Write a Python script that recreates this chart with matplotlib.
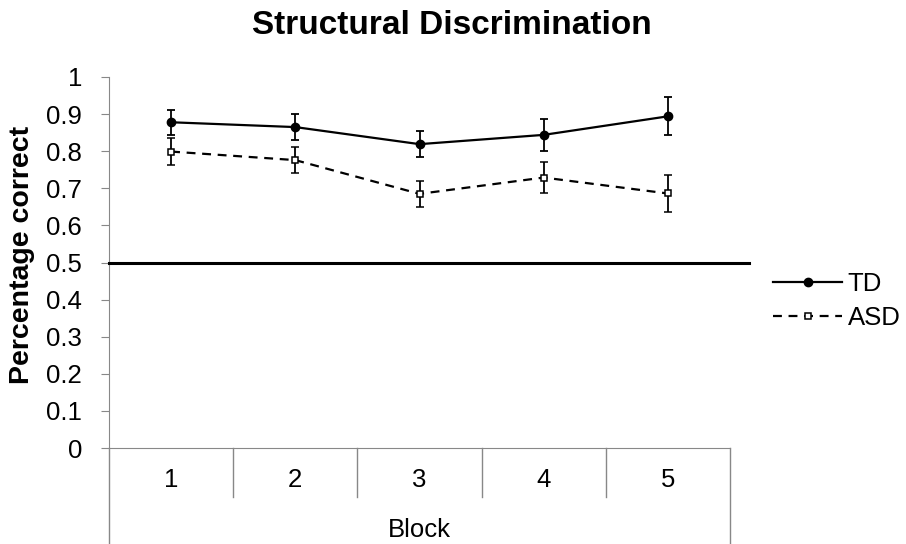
import matplotlib.pyplot as plt
from matplotlib.lines import Line2D
import matplotlib.transforms as mtransforms

blocks = ['1', '2', '3', '4', '5']
td = [0.878, 0.865, 0.819, 0.844, 0.894]
td_err = [0.034, 0.035, 0.035, 0.043, 0.051]
asd = [0.799, 0.776, 0.685, 0.729, 0.686]
asd_err = [0.036, 0.035, 0.035, 0.043, 0.051]
chance = 0.5

plt.rcParams['font.family'] = ['Liberation Sans', 'DejaVu Sans']

W, H = 906, 544
L, R, Y0, Y1 = 109, 730, 448, 77

fig = plt.figure(figsize=(9.06, 5.44), dpi=100)
ax = fig.add_axes([L/W, 1-Y0/H, (R-L)/W, (Y0-Y1)/H])

x = list(range(1, len(blocks)+1))
ax.errorbar(x, td, yerr=td_err, color='black', lw=1.6, marker='o', ms=6,
            capsize=3.2, elinewidth=1.3, capthick=1.3)
ax.errorbar(x, asd, yerr=asd_err, color='black', lw=1.6, ls='--', dashes=(4, 3),
            marker='s', ms=5, mfc='white', mew=1.1,
            capsize=3.2, elinewidth=1.3, capthick=1.3)

# chance line, runs a bit past the plot area like the original
trans = mtransforms.blended_transform_factory(fig.transFigure, ax.transData)
fig.add_artist(Line2D([L/W, 749/W], [chance, chance], transform=trans,
                      color='black', lw=2.2))

ax.set_xlim(0.5, len(blocks)+0.5)
ax.set_ylim(0, 1)
ax.set_yticks([i/10 for i in range(11)])
ax.set_yticklabels(['0'] + ['0.%d' % i for i in range(1, 10)] + ['1'], fontsize=18.5)
ax.tick_params(axis='y', direction='out', length=5.8, color='#888888', pad=13.5)
ax.set_xticks([])
for s in ['top', 'right']:
    ax.spines[s].set_visible(False)
ax.spines['left'].set_color('#888888')
ax.spines['bottom'].set_color('#888888')

# category axis with separators and the "Block" row
bt = mtransforms.blended_transform_factory(ax.transData, fig.transFigure)
row1 = 1 - 497/H
for i in range(len(blocks)+1):
    xb = 0.5 + i
    low = 0 if i in (0, len(blocks)) else row1
    fig.add_artist(Line2D([xb, xb], [1-Y0/H, low], transform=bt,
                          color='#888888', lw=1))
for xi, b in zip(x, blocks):
    fig.text(xi, 1-480/H, b, transform=bt, ha='center', va='center', fontsize=18.5)
fig.text((len(blocks)+1)/2, 1-530/H, 'Block', transform=bt, ha='center', va='center', fontsize=18.5)

fig.text(22/W, 1-255/H, 'Percentage correct', rotation=90, ha='center', va='center',
         fontsize=20.5, fontweight='bold')
fig.text(452/W, 1-25/H, 'Structural Discrimination', ha='center', va='center',
         fontsize=24, fontweight='bold')

handles = [Line2D([], [], color='black', lw=1.6, marker='o', ms=6),
           Line2D([], [], color='black', lw=1.6, ls='--', dashes=(4, 3),
                  marker='s', ms=5, mfc='white', mew=1.1)]
fig.legend(handles, ['TD', 'ASD'], loc='center left', bbox_to_anchor=(773/W, 1-301/H),
           frameon=False, fontsize=18.5, handlelength=2.7, labelspacing=0.4,
           handletextpad=0.2, borderpad=0, borderaxespad=0)

fig.savefig('out.png', dpi=100)
